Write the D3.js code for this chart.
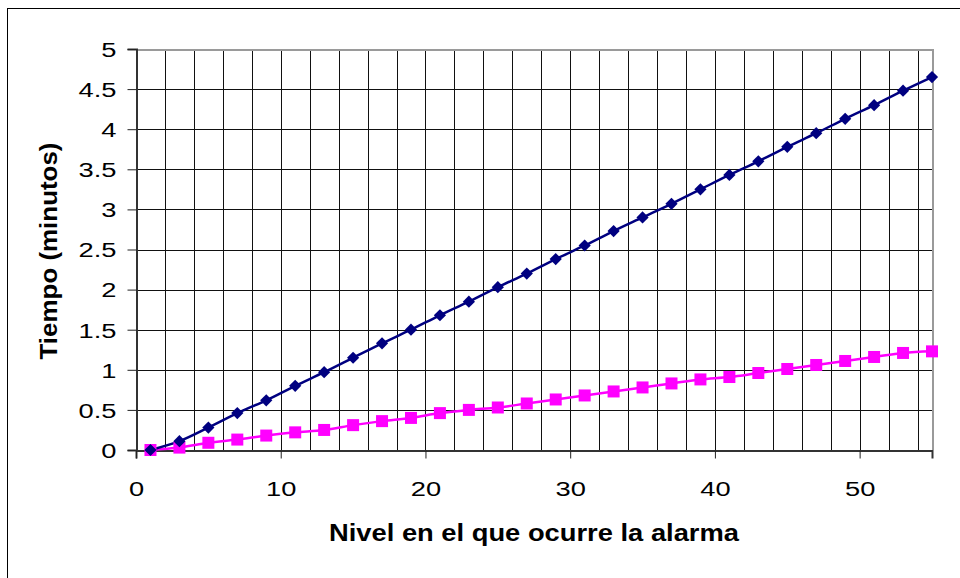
<!DOCTYPE html>
<html>
<head>
<meta charset="utf-8">
<script src="https://cdn.jsdelivr.net/npm/d3@7"></script>
<style>
  body { margin: 0; background: #fff; }
  svg { display: block; font-family: Arial, "Liberation Sans", sans-serif; }
</style>
</head>
<body>
<svg id="chart" width="960" height="578"></svg>
<script>
// Nivel (x) and the two time series (minutes)
const niveles = [1, 3, 5, 7, 9, 11, 13, 15, 17, 19, 21, 23, 25, 27, 29, 31, 33, 35, 37, 39, 41, 43, 45, 47, 49, 51, 53, 55];
const serieAzul = [0, 0.11, 0.28, 0.46, 0.62, 0.8, 0.97, 1.15, 1.33, 1.5, 1.68, 1.85, 2.03, 2.2, 2.38, 2.55, 2.73, 2.9, 3.07, 3.25, 3.43, 3.6, 3.78, 3.95, 4.13, 4.3, 4.48, 4.65];
const serieRosa = [0, 0.03, 0.09, 0.13, 0.18, 0.22, 0.25, 0.31, 0.36, 0.4, 0.46, 0.5, 0.53, 0.58, 0.63, 0.68, 0.73, 0.78, 0.83, 0.88, 0.91, 0.96, 1.01, 1.06, 1.11, 1.16, 1.21, 1.23];
const xTicks = [0, 10, 20, 30, 40, 50];
const xGrid = d3.range(0, 56, 2);
const yTicks = [0, 0.5, 1, 1.5, 2, 2.5, 3, 3.5, 4, 4.5, 5];

const svg = d3.select('#chart');
const plot = { left: 136, right: 932, top: 49, bottom: 450 };
// the picture's text is drawn wider than normal Arial
const stretch = 1.3;

const x = d3.scaleLinear().domain([0, 55]).range([plot.left, plot.right]);
const y = d3.scaleLinear().domain([0, 5]).range([plot.bottom, plot.top]);

// outer chart border (only top/left inside the picture)
svg.append('rect')
  .attr('x', 7.5).attr('y', 8.5)
  .attr('width', 1000).attr('height', 1000)
  .attr('fill', 'none').attr('stroke', '#000').attr('stroke-width', 1);

// gridlines
const grid = svg.append('g').attr('shape-rendering', 'crispEdges');
grid.selectAll('line.v').data(xGrid.filter(d => d > 0)).join('line')
  .attr('class', 'v')
  .attr('x1', d => Math.round(x(d)) + 0.5).attr('x2', d => Math.round(x(d)) + 0.5)
  .attr('y1', plot.top).attr('y2', plot.bottom)
  .attr('stroke', '#111').attr('stroke-width', 1);
grid.selectAll('line.h').data(yTicks.filter(d => d > 0 && d < 5)).join('line')
  .attr('class', 'h')
  .attr('x1', plot.left).attr('x2', plot.right)
  .attr('y1', d => Math.round(y(d)) + 0.5).attr('y2', d => Math.round(y(d)) + 0.5)
  .attr('stroke', '#111').attr('stroke-width', 1);

// plot area top/right border (gray)
grid.append('path')
  .attr('d', `M${plot.left},${plot.top + 0.5}H${plot.right + 0.5}V${plot.bottom}`)
  .attr('fill', 'none').attr('stroke', '#9a9a9a').attr('stroke-width', 2);

// y axis
const yAxis = svg.append('g')
  .attr('transform', `translate(${plot.left + 0.5},0)`)
  .call(d3.axisLeft(y).tickValues(yTicks).tickSize(9).tickFormat(d3.format('')));
yAxis.select('.domain').attr('stroke', '#333').attr('stroke-width', 2);
yAxis.selectAll('.tick line').attr('stroke', '#222');
yAxis.selectAll('.tick text')
  .attr('x', 0).attr('dy', '0.35em')
  .attr('transform', `translate(-20,0) scale(${stretch},1)`)
  .attr('font-size', 21).attr('fill', '#000')
  .attr('font-family', 'Arial, "Liberation Sans", sans-serif');

// x axis
const xAxis = svg.append('g')
  .attr('transform', `translate(0,${plot.bottom + 0.5})`)
  .call(d3.axisBottom(x).tickValues(xTicks).tickSize(8).tickFormat(d3.format('d')));
xAxis.select('.domain').attr('stroke', '#333').attr('stroke-width', 2);
xAxis.selectAll('.tick line').attr('stroke', '#222');
xAxis.selectAll('.tick text')
  .attr('y', 0).attr('dy', 0)
  .attr('transform', `translate(0,45) scale(${stretch},1)`)
  .attr('font-size', 21).attr('fill', '#000')
  .attr('font-family', 'Arial, "Liberation Sans", sans-serif');

// lines
const line = ys => d3.line()
  .x((d, i) => x(niveles[i]))
  .y(d => y(d))
  .curve(d3.curveCatmullRom.alpha(0.5))(ys);

svg.append('path').attr('d', line(serieRosa))
  .attr('fill', 'none').attr('stroke', '#ff00ff').attr('stroke-width', 2.5);
svg.append('path').attr('d', line(serieAzul))
  .attr('fill', 'none').attr('stroke', '#000080').attr('stroke-width', 2.5);

// markers
svg.append('g').selectAll('rect').data(serieRosa).join('rect')
  .attr('x', (d, i) => x(niveles[i]) - 6)
  .attr('y', d => y(d) - 6)
  .attr('width', 12).attr('height', 12)
  .attr('fill', '#ff00ff');

const diamond = d3.symbol().type(d3.symbolDiamond2).size(95);
svg.append('g').selectAll('path').data(serieAzul).join('path')
  .attr('transform', (d, i) => `translate(${x(niveles[i])},${y(d)})`)
  .attr('d', diamond)
  .attr('fill', '#000080');

// axis titles
svg.append('text')
  .attr('x', (plot.left + plot.right) / 2)
  .attr('y', 541)
  .attr('text-anchor', 'middle')
  .attr('font-size', 23).attr('font-weight', 'bold')
  .attr('textLength', 410).attr('lengthAdjust', 'spacingAndGlyphs')
  .text('Nivel en el que ocurre la alarma');

svg.append('text')
  .attr('transform', `translate(57,251) rotate(-90)`)
  .attr('text-anchor', 'middle')
  .attr('font-size', 23).attr('font-weight', 'bold')
  .attr('textLength', 217).attr('lengthAdjust', 'spacingAndGlyphs')
  .text('Tiempo (minutos)');
</script>
</body>
</html>
